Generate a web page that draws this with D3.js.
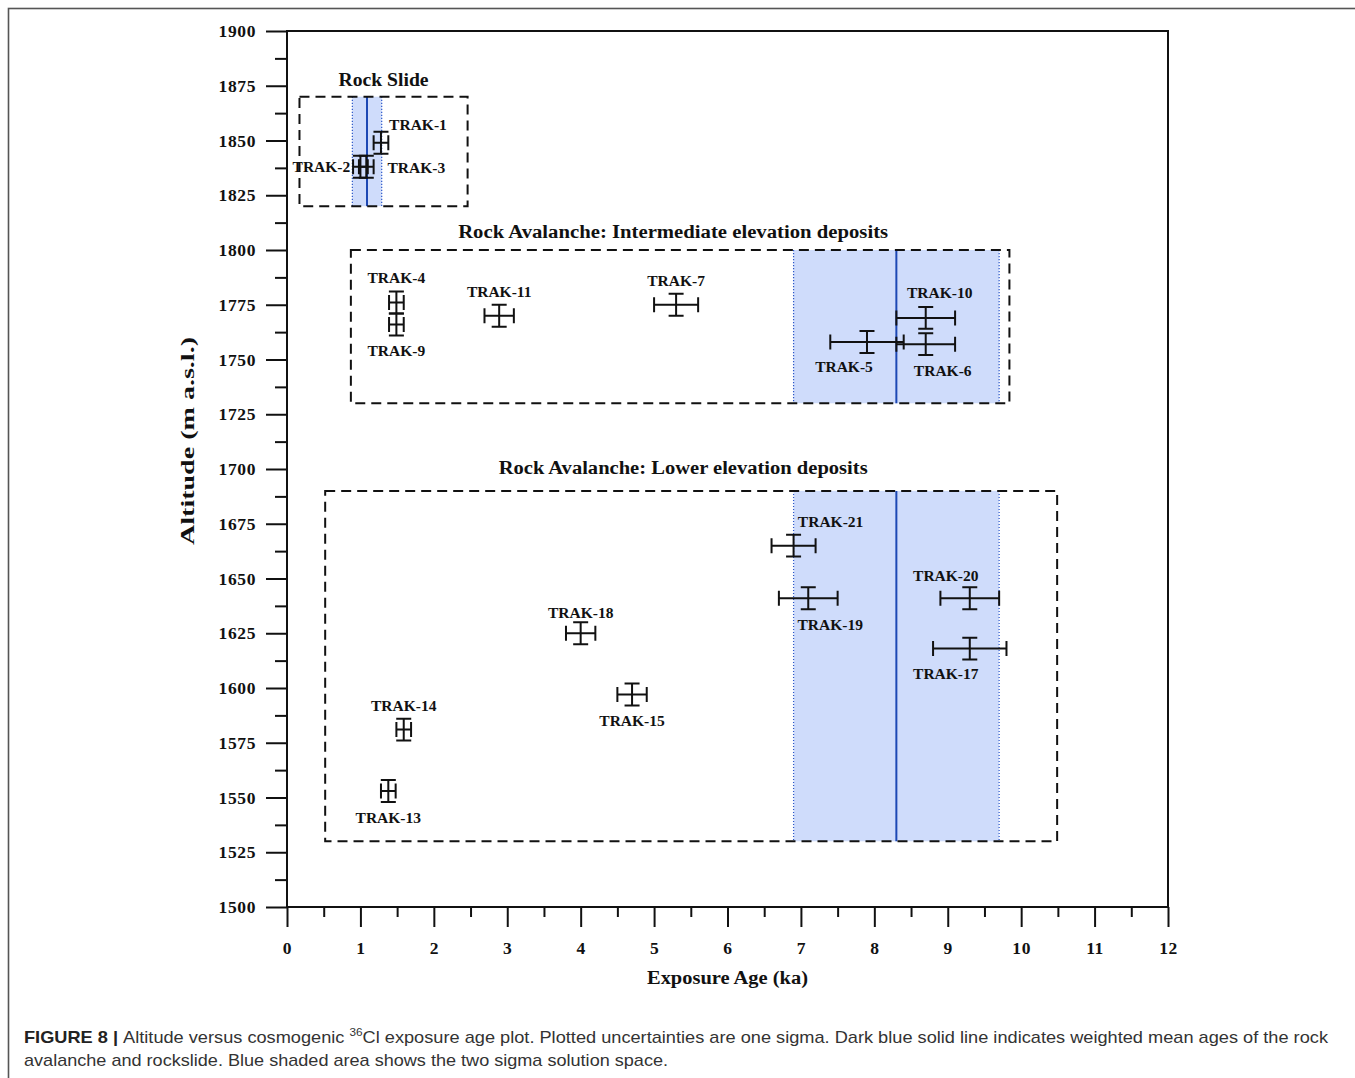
<!DOCTYPE html>
<html>
<head>
<meta charset="utf-8">
<script src="https://cdn.jsdelivr.net/npm/d3@7"></script>
<style>
  html, body { margin: 0; padding: 0; background: #fff; }
  svg { display: block; }
</style>
</head>
<body>
<svg id="chart" width="1355" height="1078"></svg>
<script>
// Cosmogenic 36Cl exposure ages of the boulder samples (ka, with 1-sigma errors)
const samples   = ["TRAK-1","TRAK-2","TRAK-3","TRAK-4","TRAK-9","TRAK-11","TRAK-7","TRAK-10","TRAK-5","TRAK-6",
                   "TRAK-21","TRAK-19","TRAK-20","TRAK-17","TRAK-18","TRAK-15","TRAK-14","TRAK-13"];
const ages      = [1.28, 1.00, 1.08, 1.49, 1.49, 2.89, 5.30, 8.70, 7.90, 8.70,
                   6.90, 7.10, 9.30, 9.30, 4.00, 4.70, 1.59, 1.38];
const ageErrors = [0.1, 0.1, 0.1, 0.1, 0.1, 0.2, 0.3, 0.4, 0.5, 0.4,
                   0.3, 0.4, 0.4, 0.5, 0.2, 0.2, 0.1, 0.1];
const altitudes = [1849, 1838, 1838, 1776, 1766, 1770, 1775, 1769, 1758, 1757,
                   1665, 1641, 1641, 1618, 1625, 1597, 1581, 1553];
const altErrors = [5, 5, 5, 5, 5, 5, 5, 5, 5, 5, 5, 5, 5, 5, 5, 5, 5, 5];

// Deposit groups: extent of the outlined box, weighted mean age and 2-sigma range
const groupNames   = ["Rock Slide", "Rock Avalanche: Intermediate elevation deposits", "Rock Avalanche: Lower elevation deposits"];
const groupAgeMin  = [0.17, 0.87, 0.52];
const groupAgeMax  = [2.46, 9.84, 10.49];
const groupAltMin  = [1820, 1730, 1530];
const groupAltMax  = [1870, 1800, 1690];
const groupMeanAge = [1.09, 8.3, 8.3];
const groupTwoSigma= [0.2, 1.4, 1.4];

// Axis ticks
const ageTicks = [0,1,2,3,4,5,6,7,8,9,10,11,12];
const altTicks = [1500,1525,1550,1575,1600,1625,1650,1675,1700,1725,1750,1775,1800,1825,1850,1875,1900];

// Label placement around each sample (pixel offsets from the point)
const labelOffsets = {
  "TRAK-1":[37,-18], "TRAK-2":[-39,0], "TRAK-3":[50,1], "TRAK-4":[0,-25], "TRAK-9":[0,26],
  "TRAK-11":[0,-24], "TRAK-7":[0,-24], "TRAK-10":[14,-25], "TRAK-5":[-23,25], "TRAK-6":[17,26],
  "TRAK-21":[37,-24], "TRAK-19":[22,26], "TRAK-20":[-24,-23], "TRAK-17":[-24,25],
  "TRAK-18":[0,-21], "TRAK-15":[0,26], "TRAK-14":[0,-24], "TRAK-13":[0,27]
};
const titleLayout = [ {dx:0, dy:-17, len:90}, {dx:-7, dy:-18, len:430}, {dx:-8, dy:-23, len:369} ];

const serif = "'Liberation Serif', 'DejaVu Serif', serif";
const sans  = "'Liberation Sans', Arial, sans-serif";

const svg = d3.select("#chart");
const x = d3.scaleLinear().domain([0, 12]).range([287, 1168]);
const y = d3.scaleLinear().domain([1500, 1900]).range([907, 31]);

// Outer figure border
svg.append("rect").attr("x", 8.5).attr("y", 8.5).attr("width", 1400).attr("height", 1100)
  .attr("fill", "none").attr("stroke", "#555").attr("stroke-width", 1.6);

// Shaded 2-sigma bands and weighted mean lines
const g = svg.append("g");
groupNames.forEach((name, i) => {
  const lo = groupMeanAge[i] - groupTwoSigma[i], hi = groupMeanAge[i] + groupTwoSigma[i];
  const yt = y(groupAltMax[i]), yb = y(groupAltMin[i]);
  g.append("rect").attr("x", x(lo)).attr("y", yt).attr("width", x(hi) - x(lo)).attr("height", yb - yt)
    .attr("fill", "#cfdcfb");
  [lo, hi].forEach(v => g.append("line").attr("x1", x(v)).attr("x2", x(v)).attr("y1", yt).attr("y2", yb)
    .attr("stroke", "#2a55c8").attr("stroke-width", 1.2).attr("stroke-dasharray", "1.2,1.8"));
  g.append("line").attr("x1", x(groupMeanAge[i])).attr("x2", x(groupMeanAge[i])).attr("y1", yt).attr("y2", yb)
    .attr("stroke", "#1d48b4").attr("stroke-width", 2);
});

// Dashed group outlines and titles
groupNames.forEach((name, i) => {
  const x0 = x(groupAgeMin[i]), x1 = x(groupAgeMax[i]);
  const yt = y(groupAltMax[i]), yb = y(groupAltMin[i]);
  g.append("rect").attr("x", x0).attr("y", yt).attr("width", x1 - x0).attr("height", yb - yt)
    .attr("fill", "none").attr("stroke", "#111").attr("stroke-width", 2).attr("stroke-dasharray", "10,6");
  g.append("text").attr("x", (x0 + x1) / 2 + titleLayout[i].dx).attr("y", yt + titleLayout[i].dy)
    .attr("text-anchor", "middle").attr("dominant-baseline", "central")
    .attr("font-family", serif).attr("font-weight", "bold").attr("font-size", 18)
    .attr("textLength", titleLayout[i].len).attr("lengthAdjust", "spacingAndGlyphs")
    .attr("fill", "#111").text(name);
});

// Plot frame
svg.append("rect").attr("x", x(0)).attr("y", y(1900)).attr("width", x(12) - x(0)).attr("height", y(1500) - y(1900))
  .attr("fill", "none").attr("stroke", "#111").attr("stroke-width", 2);

// Y axis: major ticks with labels, minor ticks in between
const yAxis = svg.append("g").attr("transform", `translate(${x(0)},0)`)
  .call(d3.axisLeft(y).tickValues(altTicks).tickSize(21).tickSizeOuter(0).tickPadding(10).tickFormat(d3.format("d")));
const yMinor = svg.append("g").attr("transform", `translate(${x(0)},0)`)
  .call(d3.axisLeft(y).tickValues(altTicks.slice(0, -1).map(v => v + 12.5)).tickSize(12).tickSizeOuter(0).tickFormat(""));

// X axis
const xAxis = svg.append("g").attr("transform", `translate(0,${y(1500)})`)
  .call(d3.axisBottom(x).tickValues(ageTicks).tickSize(20).tickSizeOuter(0).tickPadding(15).tickFormat(d3.format("d")));
const xMinor = svg.append("g").attr("transform", `translate(0,${y(1500)})`)
  .call(d3.axisBottom(x).tickValues(ageTicks.slice(0, -1).map(v => v + 0.5)).tickSize(10).tickSizeOuter(0).tickFormat(""));

[yAxis, yMinor, xAxis, xMinor].forEach(a => {
  a.select(".domain").remove();
  a.selectAll(".tick line").attr("stroke", "#111").attr("stroke-width", 2);
  a.selectAll(".tick text").attr("font-family", serif).attr("font-weight", "bold")
    .attr("font-size", 17.5).attr("letter-spacing", 0.6).attr("fill", "#111");
});

// Axis titles
svg.append("text").attr("transform", `translate(188,${(y(1900) + y(1500)) / 2 - 28}) rotate(-90)`)
  .attr("text-anchor", "middle").attr("dominant-baseline", "central")
  .attr("font-family", serif).attr("font-weight", "bold").attr("font-size", 18)
  .attr("textLength", 208).attr("lengthAdjust", "spacingAndGlyphs")
  .attr("fill", "#111").text("Altitude (m a.s.l.)");
svg.append("text").attr("x", (x(0) + x(12)) / 2).attr("y", 978)
  .attr("text-anchor", "middle").attr("dominant-baseline", "central")
  .attr("font-family", serif).attr("font-weight", "bold").attr("font-size", 18)
  .attr("textLength", 161).attr("lengthAdjust", "spacingAndGlyphs")
  .attr("fill", "#111").text("Exposure Age (ka)");

// Error bars for each sample
const cap = 7.5;
const pts = svg.append("g").attr("stroke", "#111").attr("stroke-width", 2).attr("fill", "none");
samples.forEach((s, i) => {
  const cx = x(ages[i]), cy = y(altitudes[i]);
  const xl = x(ages[i] - ageErrors[i]), xr = x(ages[i] + ageErrors[i]);
  const yt = y(altitudes[i] + altErrors[i]), yb = y(altitudes[i] - altErrors[i]);
  const p = d3.path();
  p.moveTo(xl, cy); p.lineTo(xr, cy);
  p.moveTo(xl, cy - cap); p.lineTo(xl, cy + cap);
  p.moveTo(xr, cy - cap); p.lineTo(xr, cy + cap);
  p.moveTo(cx, yt); p.lineTo(cx, yb);
  p.moveTo(cx - cap, yt); p.lineTo(cx + cap, yt);
  p.moveTo(cx - cap, yb); p.lineTo(cx + cap, yb);
  pts.append("path").attr("d", p.toString());
});

// Sample labels
svg.append("g").selectAll("text").data(samples).join("text")
  .attr("x", (s, i) => x(ages[i]) + labelOffsets[s][0])
  .attr("y", (s, i) => y(altitudes[i]) + labelOffsets[s][1])
  .attr("text-anchor", "middle").attr("dominant-baseline", "central")
  .attr("font-family", serif).attr("font-weight", "bold").attr("font-size", 15.5)
  .attr("fill", "#111").text(s => s);

// Caption
const cap1 = svg.append("text").attr("x", 24).attr("y", 1043)
  .attr("font-family", sans).attr("font-size", 17).attr("fill", "#333")
  .attr("textLength", 1304).attr("lengthAdjust", "spacingAndGlyphs");
cap1.append("tspan").attr("font-weight", "bold").attr("fill", "#222").text("FIGURE 8 | ");
cap1.append("tspan").text("Altitude versus cosmogenic ");
cap1.append("tspan").attr("font-size", 11).attr("dy", -7).text("36");
cap1.append("tspan").attr("dy", 7).text("Cl exposure age plot. Plotted uncertainties are one sigma. Dark blue solid line indicates weighted mean ages of the rock");
svg.append("text").attr("x", 24).attr("y", 1066)
  .attr("font-family", sans).attr("font-size", 17).attr("fill", "#333")
  .attr("textLength", 644).attr("lengthAdjust", "spacingAndGlyphs")
  .text("avalanche and rockslide. Blue shaded area shows the two sigma solution space.");
</script>
</body>
</html>
